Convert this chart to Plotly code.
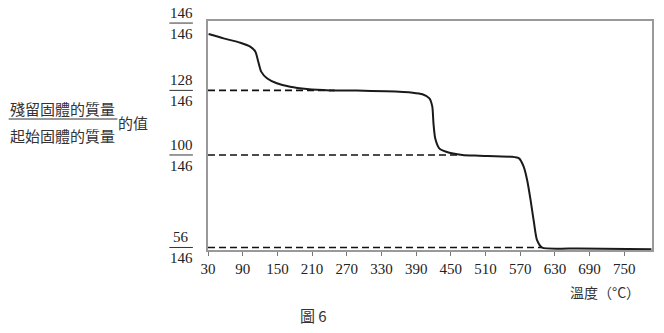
import plotly.graph_objects as go

# Temperature (°C) and schematic level of remaining-mass curve (0 = bottom, 100 = top of frame)
temps = [31, 57, 86, 103, 112, 117, 122, 132, 149, 172, 201, 241, 287, 338, 384, 401, 413, 418,
         420, 423, 430, 442, 470, 499, 556, 568, 576, 582, 588, 594, 599, 608, 671, 797]
levels = [94.3, 92.4, 90.5, 88.8, 86.6, 82.2, 77.9, 75.0, 72.8, 71.3, 70.3, 69.7, 69.6, 69.3, 68.7,
          68.0, 66.2, 62.6, 55.3, 48.8, 44.4, 42.9, 41.5, 41.2, 40.7, 40.0, 36.4, 30.6, 21.8, 11.7,
          4.4, 1.0, 0.7, 0.3]

# y-axis fraction labels
numerators = ["146", "128", "100", "56"]
denominators = ["146", "146", "146", "146"]
label_levels = [99.1, 69.7, 41.5, 1.1]

# dashed reference lines (level, end temperature)
dash_levels = [69.7, 41.5, 1.1]
dash_ends = [249, 465, 607]

x_ticks = list(range(30, 751, 60))

SERIF = "Liberation Serif"
CJK = "Noto Sans CJK TC"

fig = go.Figure()

for lv, xe in zip(dash_levels, dash_ends):
    fig.add_trace(go.Scatter(x=[30, xe], y=[lv, lv], mode="lines",
                             line=dict(color="#111", width=1.6, dash="7px,4px"),
                             showlegend=False, hoverinfo="skip"))

fig.add_trace(go.Scatter(x=temps, y=levels, mode="lines",
                         line=dict(color="#1a1a1a", width=2, shape="spline", smoothing=0.6),
                         showlegend=False))

# fraction labels on y axis
for n, d, lv in zip(numerators, denominators, label_levels):
    fig.add_annotation(x=-0.06, xref="paper", y=lv, yref="y", text=n, showarrow=False,
                       xanchor="center", yanchor="middle", yshift=10,
                       font=dict(family=SERIF, size=15, color="#222"))
    fig.add_annotation(x=-0.06, xref="paper", y=lv, yref="y", text=d, showarrow=False,
                       xanchor="center", yanchor="middle", yshift=-11,
                       font=dict(family=SERIF, size=15, color="#222"))
    fig.add_shape(type="line", xref="paper", yref="y", x0=-0.087, x1=-0.034, y0=lv, y1=lv,
                  line=dict(color="#333", width=1))

# big left label
fig.add_annotation(x=-0.327, xref="paper", y=0.617, yref="paper", text="殘留固體的質量",
                   showarrow=False, xanchor="center", yanchor="middle",
                   font=dict(family=CJK, size=15, color="#333"))
fig.add_annotation(x=-0.327, xref="paper", y=0.50, yref="paper", text="起始固體的質量",
                   showarrow=False, xanchor="center", yanchor="middle",
                   font=dict(family=CJK, size=15, color="#333"))
fig.add_shape(type="line", xref="paper", yref="paper", x0=-0.449, x1=-0.204, y0=0.572, y1=0.572,
              line=dict(color="#333", width=1))
fig.add_annotation(x=-0.169, xref="paper", y=0.555, yref="paper", text="的值",
                   showarrow=False, xanchor="center", yanchor="middle",
                   font=dict(family=CJK, size=15, color="#333"))

# x-axis title and caption
fig.add_annotation(x=0.895, xref="paper", y=-0.183, yref="paper", text="溫度（°C）",
                   showarrow=False, xanchor="center", yanchor="middle",
                   font=dict(family=CJK, size=14, color="#333"))
fig.add_annotation(x=0.237, xref="paper", y=-0.288, yref="paper", text="圖 6",
                   showarrow=False, xanchor="center", yanchor="middle",
                   font=dict(family=CJK, size=15, color="#333"))

fig.update_layout(
    width=664, height=333,
    margin=dict(l=208, r=10, t=21, b=83),
    paper_bgcolor="white", plot_bgcolor="white",
    xaxis=dict(range=[30, 798], tickvals=x_ticks, ticks="outside", ticklen=4, tickwidth=1,
               tickcolor="#777", showline=True, linecolor="#999", linewidth=2, mirror=True,
               showgrid=False, zeroline=False,
               tickfont=dict(family=SERIF, size=15, color="#222")),
    yaxis=dict(range=[0, 100], showticklabels=False, ticks="", showline=True, linecolor="#999",
               linewidth=2, mirror=True, showgrid=False, zeroline=False),
)

fig.write_html("out.html")
